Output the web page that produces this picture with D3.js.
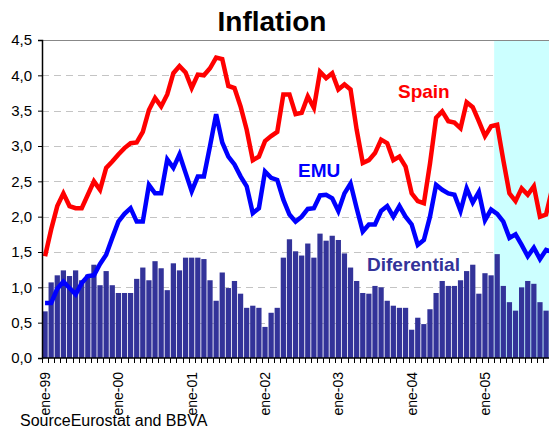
<html lang="en">
<head>
    <meta charset="UTF-8">
    <title>Inflation</title>
    <script src="https://cdn.jsdelivr.net/npm/d3@7"></script>
    <style>
        body { margin: 0; background: #fff; }
        text { font-family: "Liberation Sans", Arial, sans-serif; }
    </style>
</head>
<body>
    <script>
        // months ene-99 .. dic-05
        var years = ["99", "00", "01", "02", "03", "04", "05"];
        var monthNames = ["ene", "feb", "mar", "abr", "may", "jun", "jul", "ago", "sep", "oct", "nov", "dic"];
        var tickLabels = ["ene-99", "ene-00", "ene-01", "ene-02", "ene-03", "ene-04", "ene-05"];

        var spain = [1.44, 1.82, 2.15, 2.33, 2.15, 2.12, 2.12, 2.31, 2.50, 2.38, 2.69, 2.78,
            2.88, 2.97, 3.04, 3.05, 3.20, 3.51, 3.68, 3.56, 3.73, 4.03, 4.13, 4.04,
            3.82, 4.01, 4.00, 4.10, 4.25, 4.23, 3.85, 3.82, 3.56, 3.23, 2.80, 2.85,
            3.07, 3.14, 3.20, 3.73, 3.73, 3.45, 3.47, 3.70, 3.54, 4.05, 3.96, 4.03,
            3.80, 3.87, 3.80, 3.23, 2.76, 2.80, 2.90, 3.09, 3.04, 2.80, 2.85, 2.71,
            2.33, 2.22, 2.19, 2.75, 3.40, 3.49, 3.35, 3.33, 3.25, 3.62, 3.55, 3.35,
            3.14, 3.28, 3.30, 2.80, 2.33, 2.22, 2.40, 2.31, 2.43, 2.00, 2.03, 2.40];

        var emu = [0.78, 0.78, 0.98, 1.08, 0.99, 0.90, 1.06, 1.16, 1.17, 1.33, 1.46, 1.70,
            1.93, 2.04, 2.12, 1.93, 1.93, 2.45, 2.33, 2.33, 2.81, 2.69, 2.88, 2.62,
            2.36, 2.57, 2.57, 3.00, 3.45, 3.05, 2.85, 2.74, 2.57, 2.43, 2.05, 2.12,
            2.64, 2.55, 2.52, 2.24, 2.03, 1.93, 2.00, 2.11, 2.12, 2.30, 2.31, 2.26,
            2.08, 2.33, 2.47, 2.12, 1.79, 1.89, 1.89, 2.08, 2.15, 2.00, 2.15, 2.00,
            1.89, 1.60, 1.67, 2.00, 2.45, 2.38, 2.33, 2.31, 2.08, 2.40, 2.20, 2.35,
            1.95, 2.10, 2.04, 1.93, 1.70, 1.75, 1.60, 1.44, 1.56, 1.40, 1.53, 1.50];

        var differential = [0.66, 1.07, 1.17, 1.24, 1.16, 1.24, 1.10, 1.18, 1.32, 1.03, 1.23, 1.03,
            0.92, 0.92, 0.92, 1.12, 1.28, 1.10, 1.37, 1.27, 0.96, 1.34, 1.24, 1.42,
            1.42, 1.42, 1.40, 1.10, 0.81, 1.21, 0.99, 1.09, 0.91, 0.71, 0.74, 0.71,
            0.44, 0.64, 0.71, 1.42, 1.68, 1.51, 1.45, 1.62, 1.42, 1.76, 1.66, 1.73,
            1.67, 1.48, 1.28, 1.09, 0.92, 0.91, 1.02, 1.00, 0.81, 0.74, 0.71, 0.71,
            0.40, 0.57, 0.48, 0.69, 0.92, 1.09, 1.02, 1.02, 1.10, 1.23, 1.32, 0.91,
            1.20, 1.17, 1.47, 1.02, 0.79, 0.67, 1.00, 1.09, 1.05, 0.79, 0.67, 0.80];

        var shadeFrom = "mar-05";

        var months = [];
        years.forEach(y => monthNames.forEach(m => months.push(m + "-" + y)));

        var width = 549,
            height = 430,
            plotLeft = 42,
            plotTop = 40,
            plotBottom = 358,
            plotRight = plotLeft + months.length * 6.11;

        var x = d3.scaleBand()
            .domain(months)
            .range([plotLeft, plotRight])
            .paddingInner(0.14)
            .paddingOuter(0.07);

        var y = d3.scaleLinear()
            .domain([0, 4.5])
            .range([plotBottom, plotTop]);

        var fmt = d => d3.format(".1f")(d).replace(".", ",");

        var svg = d3.select("body").append("svg")
            .attr("width", width)
            .attr("height", height);

        // title
        svg.append("text")
            .attr("x", 272)
            .attr("y", 31)
            .attr("text-anchor", "middle")
            .style("font-size", "28px")
            .style("font-weight", "bold")
            .text("Inflation");

        // grid
        svg.append("g")
            .selectAll("line")
            .data(d3.range(0.5, 4.5, 0.5))
            .enter()
            .append("line")
            .attr("x1", plotLeft)
            .attr("x2", width)
            .attr("y1", d => Math.round(y(d)) + 0.5)
            .attr("y2", d => Math.round(y(d)) + 0.5)
            .attr("stroke", "#c4c4c4")
            .attr("stroke-dasharray", "7,5");

        // forecast shade
        var xs = x(shadeFrom) - x.step() * x.paddingInner() / 2;
        svg.append("rect")
            .attr("x", xs)
            .attr("y", plotTop)
            .attr("width", plotRight - xs)
            .attr("height", plotBottom - plotTop)
            .attr("fill", "#ccffff");

        // top border
        svg.append("line")
            .attr("x1", plotLeft).attr("x2", width)
            .attr("y1", plotTop + 0.5).attr("y2", plotTop + 0.5)
            .attr("stroke", "#888");

        // bars
        svg.append("g")
            .selectAll("rect")
            .data(differential)
            .enter()
            .append("rect")
            .attr("x", (d, i) => x(months[i]))
            .attr("width", x.bandwidth())
            .attr("y", d => y(d))
            .attr("height", d => plotBottom - y(d))
            .attr("fill", "#333399");

        var line = d3.line()
            .x((d, i) => x(months[i]) + x.bandwidth() / 2)
            .y(d => y(d));

        svg.append("path")
            .datum(emu)
            .attr("d", line)
            .attr("fill", "none")
            .attr("stroke", "#0000ff")
            .attr("stroke-width", 4.5);

        svg.append("path")
            .datum(spain)
            .attr("d", line)
            .attr("fill", "none")
            .attr("stroke", "#ff0000")
            .attr("stroke-width", 4.5);

        // axes
        var yAxis = svg.append("g")
            .attr("transform", "translate(" + plotLeft + ",0)")
            .call(d3.axisLeft(y).tickValues(d3.range(0, 4.51, 0.5)).tickFormat(fmt).tickSize(4).tickPadding(6));
        yAxis.select(".domain").attr("stroke", "#000").attr("stroke-width", 1.5);
        yAxis.selectAll("text").style("font-size", "15px").attr("fill", "#000");

        var xAxis = svg.append("g")
            .attr("transform", "translate(0," + plotBottom + ")");
        xAxis.append("line")
            .attr("x1", plotLeft).attr("x2", width)
            .attr("stroke", "#000").attr("stroke-width", 1.5);
        xAxis.selectAll(".tick")
            .data(months)
            .enter()
            .append("line")
            .attr("class", "tick")
            .attr("x1", d => Math.round(x(d) - 0.4) + 0.5)
            .attr("x2", d => Math.round(x(d) - 0.4) + 0.5)
            .attr("y1", 0)
            .attr("y2", 5)
            .attr("stroke", "#000");
        xAxis.selectAll(".lbl")
            .data(tickLabels)
            .enter()
            .append("text")
            .attr("class", "lbl")
            .attr("transform", d => "translate(" + (x(d) + x.bandwidth() / 2) + ",14) rotate(-90)")
            .attr("dy", "0.35em")
            .attr("text-anchor", "end")
            .style("font-size", "14px")
            .text(d => d);

        // series labels
        svg.append("text")
            .attr("x", 398).attr("y", 98)
            .attr("fill", "#ff0000")
            .style("font-size", "19px").style("font-weight", "bold")
            .text("Spain");
        svg.append("text")
            .attr("x", 298).attr("y", 177)
            .attr("fill", "#0000ff")
            .style("font-size", "19px").style("font-weight", "bold")
            .text("EMU");
        svg.append("text")
            .attr("x", 367).attr("y", 271)
            .attr("fill", "#333399")
            .style("font-size", "19px").style("font-weight", "bold")
            .text("Diferential");

        svg.append("text")
            .attr("x", 20).attr("y", 426)
            .style("font-size", "16px")
            .text("SourceEurostat and BBVA");
    </script>
</body>
</html>
